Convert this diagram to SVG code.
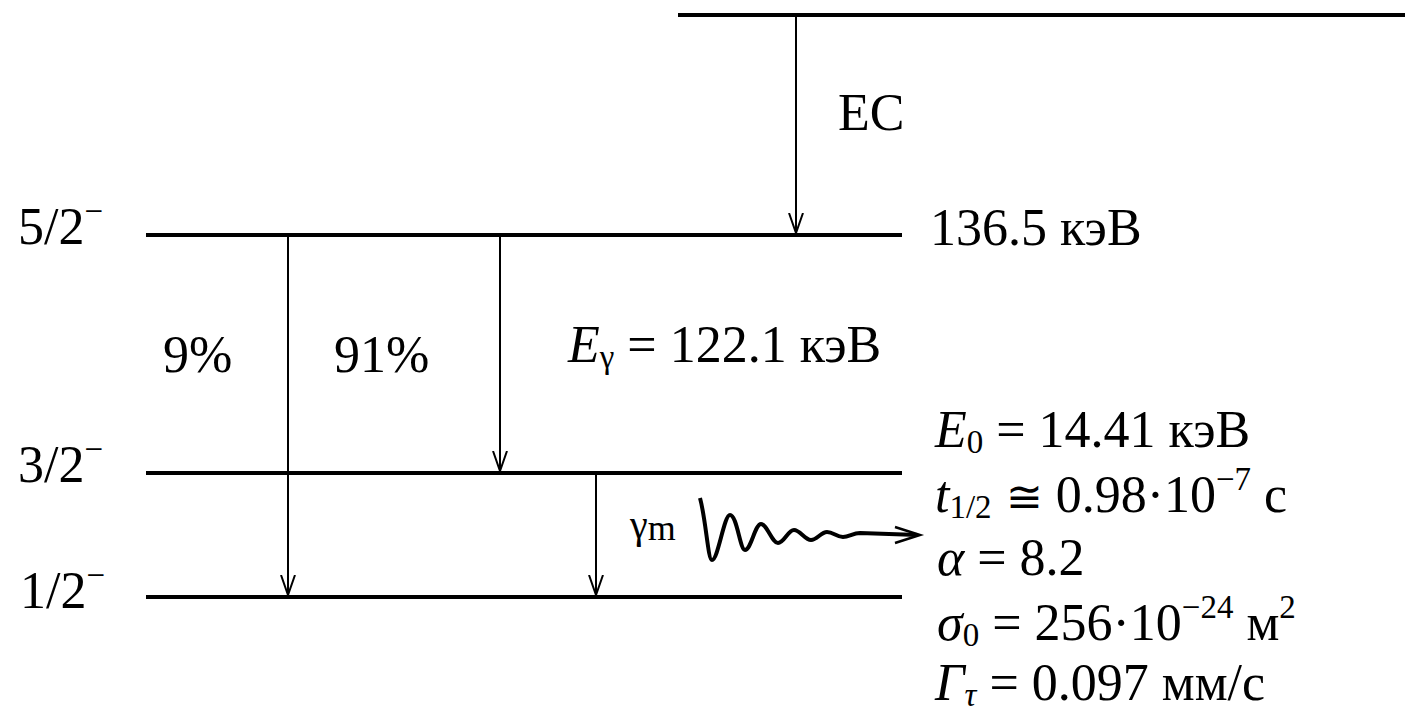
<svg xmlns="http://www.w3.org/2000/svg" width="1405" height="712" viewBox="0 0 1405 712">
<defs>
<marker id="ah" viewBox="0 0 20 20" refX="20" refY="10" markerWidth="20" markerHeight="20" markerUnits="userSpaceOnUse" orient="auto">
<path d="M0,3 L20,10 L0,17" fill="none" stroke="#000" stroke-width="2"/>
</marker>
</defs>
<rect width="1405" height="712" fill="#fff"/>
<g id="level-parent"><line x1="678" y1="15" x2="1405" y2="15" stroke="#000" stroke-width="4"/></g>
<g id="level-5-2" font-family="Liberation Serif, DejaVu Serif, serif" font-size="52">
<line x1="146" y1="235" x2="902" y2="235" stroke="#000" stroke-width="4"/>
<text x="18" y="244">5/2<tspan font-size="33" dy="-22">−</tspan></text>
<text x="930" y="245">136.5 кэВ</text>
</g>
<g id="level-3-2" font-family="Liberation Serif, DejaVu Serif, serif" font-size="52">
<line x1="146" y1="473" x2="902" y2="473" stroke="#000" stroke-width="4"/>
<text x="18" y="482">3/2<tspan font-size="33" dy="-22">−</tspan></text>
</g>
<g id="level-1-2" font-family="Liberation Serif, DejaVu Serif, serif" font-size="52">
<line x1="146" y1="597" x2="902" y2="597" stroke="#000" stroke-width="4"/>
<text x="20" y="608">1/2<tspan font-size="33" dy="-22">−</tspan></text>
</g>
<g id="connectors" stroke="#000" stroke-width="2" fill="none">
<line x1="796" y1="15" x2="796" y2="233" marker-end="url(#ah)"/>
<line x1="288" y1="235" x2="288" y2="595" marker-end="url(#ah)"/>
<line x1="500" y1="235" x2="500" y2="471" marker-end="url(#ah)"/>
<line x1="596" y1="473" x2="596" y2="595" marker-end="url(#ah)"/>
<path d="M700,498 C706,520 708,560 712,560 C718,560 724,515 730,515 C737,515 740,550 745,550 C751,550 755,524 761,524 C767,524 772,543 778,543 C784,543 788,530 794,530 C800,530 805,540 811,540 C817,540 821,532 827,532 C833,532 837,537 843,537 C849,537 853,533 860,533 L918,535" stroke-width="4"/>
<path d="M895,527 L920,535 L895,543" stroke-width="2.5"/>
</g>
<g id="labels" font-family="Liberation Serif, DejaVu Serif, serif" font-size="52">
<text x="838" y="130">EC</text>
<text x="163" y="372">9%</text>
<text x="334" y="372">91%</text>
<text x="568" y="362"><tspan font-style="italic">E</tspan><tspan font-size="33" dy="6">γ</tspan><tspan dy="-6"> = 122.1 кэВ</tspan></text>
<text x="630" y="538" font-size="40">γ<tspan font-size="36" dy="2">m</tspan></text>
<text x="935" y="447"><tspan font-style="italic">E</tspan><tspan font-size="33" dy="6">0</tspan><tspan dy="-6"> = 14.41 кэВ</tspan></text>
<text x="935" y="512"><tspan font-style="italic">t</tspan><tspan font-size="33" dy="6">1/2</tspan><tspan dy="-6" font-family="DejaVu Serif, serif" font-size="44"> ≅</tspan><tspan> 0.98·10</tspan><tspan font-size="33" dy="-22">−7</tspan><tspan dy="22"> с</tspan></text>
<text x="937" y="575"><tspan font-style="italic">α</tspan> = 8.2</text>
<text x="937" y="640"><tspan font-style="italic">σ</tspan><tspan font-size="33" dy="6">0</tspan><tspan dy="-6"> = 256·10</tspan><tspan font-size="33" dy="-22">−24</tspan><tspan dy="22"> м</tspan><tspan font-size="33" dy="-22">2</tspan></text>
<text x="935" y="700"><tspan font-style="italic">Γ</tspan><tspan font-style="italic" font-size="33" dy="6">τ</tspan><tspan dy="-6"> = 0.097 мм/с</tspan></text>
</g>
</svg>
